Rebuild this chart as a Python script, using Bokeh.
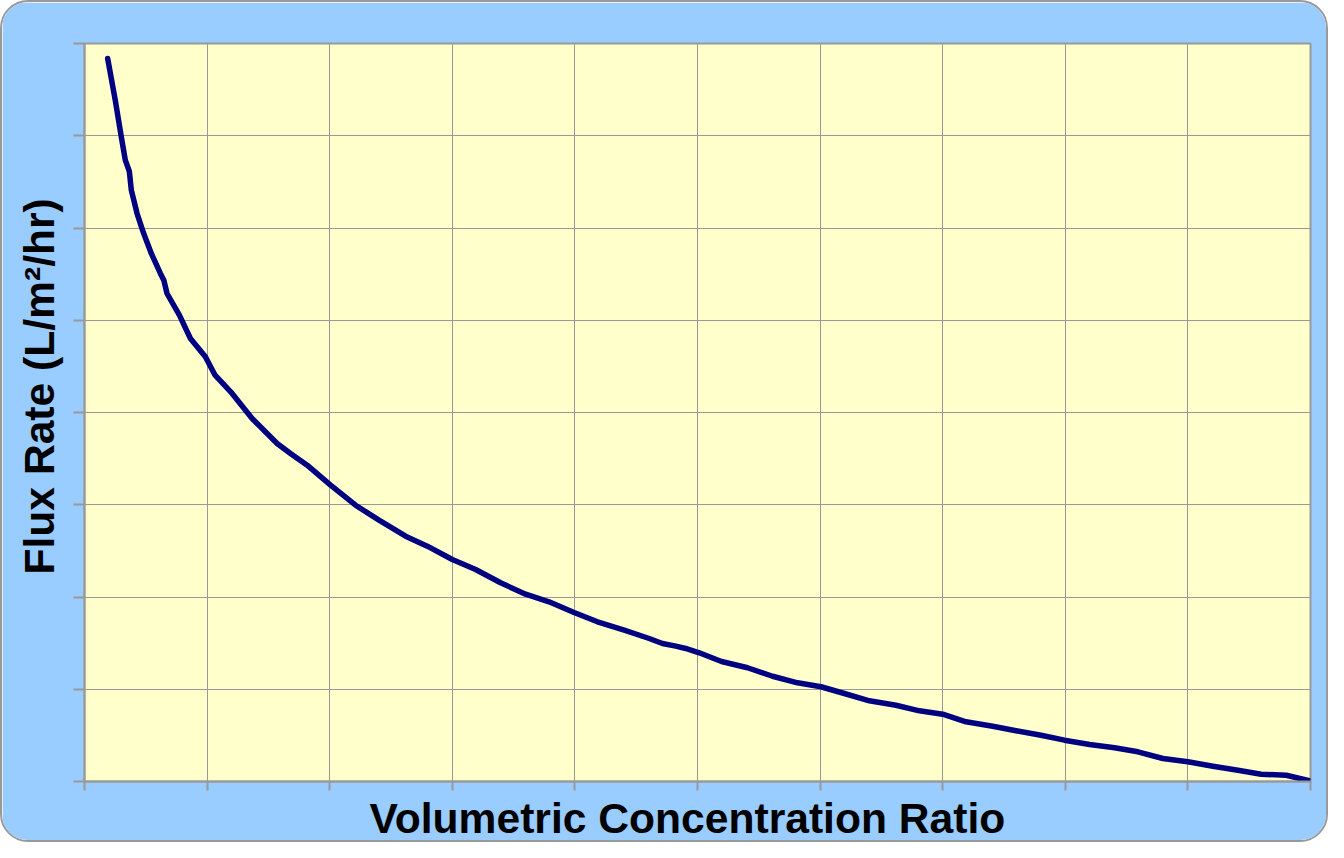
from bokeh.plotting import figure
from bokeh.models import Range1d, FixedTicker, CustomJSTickFormatter, Title
from bokeh.embed import file_html
from bokeh.resources import INLINE

# Volumetric concentration ratio (x) and flux rate (y)
vcr = [1.189, 1.251, 1.300, 1.333, 1.366, 1.382, 1.429, 1.483, 1.545, 1.619,
       1.647, 1.673, 1.774, 1.864, 1.986, 2.065, 2.204, 2.367, 2.571, 2.680,
       2.816, 3.007, 3.211, 3.402, 3.619, 3.796, 4.000, 4.190, 4.394, 4.598,
       4.789, 4.993, 5.184, 5.402, 5.606, 5.714, 5.823, 5.904, 6.014, 6.196,
       6.408, 6.612, 6.816, 7.007, 7.198, 7.402, 7.619, 7.810, 8.000, 8.190,
       8.408, 8.598, 8.802, 8.993, 9.198, 9.402, 9.592, 9.796, 10.000, 10.204,
       10.408, 10.598, 10.802, 11.000]
flux = [78.37, 73.85, 69.89, 67.35, 66.12, 64.10, 61.57, 59.40, 57.24, 55.07,
        54.34, 52.90, 50.55, 48.02, 46.04, 44.04, 42.06, 39.35, 36.64, 35.56,
        34.29, 32.12, 29.95, 28.33, 26.59, 25.51, 24.07, 22.98, 21.54, 20.30,
        19.48, 18.32, 17.31, 16.40, 15.50, 14.96, 14.67, 14.42, 13.95, 13.01,
        12.33, 11.41, 10.70, 10.27, 9.54, 8.75, 8.27, 7.66, 7.30, 6.47,
        5.99, 5.50, 5.02, 4.48, 4.01, 3.65, 3.22, 2.49, 2.14, 1.66,
        1.22, 0.79, 0.68, 0.05]

x_ticks = [1, 2, 3, 4, 5, 6, 7, 8, 9, 10, 11]
y_ticks = [0, 10, 20, 30, 40, 50, 60, 70, 80]

x_title = "Volumetric Concentration Ratio"
y_title = "Flux Rate (L/m\u00b2/hr)"

GRID = "#999999"

p = figure(width=1328, height=842, output_backend="svg", toolbar_location=None,
           x_range=Range1d(1, 11), y_range=Range1d(0, 80),
           min_border_left=82, min_border_top=41, min_border_right=20,
           min_border_bottom=63)

p.background_fill_color = "#FFFFCC"
p.border_fill_color = "#99CCFF"
p.outline_line_color = GRID
p.outline_line_width = 2

p.line(vcr, flux, line_color="#000080", line_width=5.5, line_cap="round",
       line_join="round")

empty = CustomJSTickFormatter(code="return ''")
for ax, ticks in ((p.xaxis, x_ticks), (p.yaxis, y_ticks)):
    ax.ticker = FixedTicker(ticks=ticks)
    ax.formatter = empty
    ax.minor_tick_line_color = None
    ax.major_tick_in = 0
    ax.major_tick_line_color = GRID
    ax.major_tick_line_width = 2
    ax.axis_line_color = GRID
    ax.axis_line_width = 2
    ax.major_label_standoff = 0
    ax.major_label_text_font_size = "1px"

p.xaxis.major_tick_out = 9
p.yaxis.major_tick_out = 11

# axis titles as side titles, so they can be shifted along the axis
xt = Title(text=x_title, align="left", offset=285, vertical_align="middle",
           standoff=4, text_font="Liberation Sans", text_font_style="bold",
           text_font_size="42.6px", text_color="#000000")
yt = Title(text=y_title, align="left", offset=207, vertical_align="middle",
           standoff=20, text_font="Liberation Sans", text_font_style="bold",
           text_font_size="42.6px", text_color="#000000")
p.add_layout(xt, "below")
p.add_layout(yt, "left")

p.xgrid.ticker = FixedTicker(ticks=x_ticks)
p.ygrid.ticker = FixedTicker(ticks=y_ticks)
p.grid.grid_line_color = GRID
p.grid.grid_line_width = 1

p.styles = {"border-radius": "28px", "border": "2px solid #999999",
            "overflow": "hidden", "box-sizing": "border-box"}

html = file_html(p, INLINE)
html = html.replace("<body>", '<body style="background-color:#FFFFCC;">', 1)
open("out.html", "w").write(html)
